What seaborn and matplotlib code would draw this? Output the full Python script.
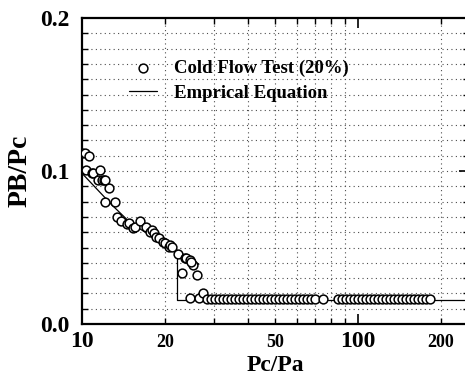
import numpy as np
import pandas as pd
import matplotlib
matplotlib.use("Agg")
import matplotlib.pyplot as plt
import seaborn as sns
from matplotlib.ticker import FixedLocator, FixedFormatter

# ---- data ----
high_x = [10.0, 10.25, 10.34, 10.6, 10.84, 10.99, 11.46, 11.6, 11.78, 12.05, 12.1, 12.53,
          12.1, 13.2, 13.4, 13.9, 14.5, 14.8, 15.25, 15.6, 16.2, 17.0, 17.6, 17.9, 18.2,
          18.6, 19.0, 19.7, 20.0, 20.7, 20.9, 21.1, 22.2, 23.0, 23.6, 23.9, 24.6, 25.3,
          24.9, 26.2]
high_y = [0.112, 0.1116, 0.1006, 0.110, 0.0985, 0.0989, 0.094, 0.1006, 0.094, 0.094, 0.094,
          0.0887, 0.080, 0.080, 0.0697, 0.0675, 0.0654, 0.0662, 0.0625, 0.0636, 0.0675,
          0.0636, 0.0603, 0.0614, 0.0593, 0.0571, 0.056, 0.0538, 0.0532, 0.0505, 0.0516,
          0.0501, 0.0458, 0.0331, 0.0429, 0.0429, 0.0418, 0.0386, 0.0407, 0.032]

low_x = [24.6, 26.5, 27.4, 28.3, 29.3, 30.3, 31.3, 32.4, 33.5, 34.6, 35.8, 37.0, 38.3,
         39.6, 40.9, 42.3, 43.7, 45.2, 46.7, 48.3, 50.0, 51.7, 53.4, 55.2, 57.1, 59.0,
         61.0, 63.1, 65.3, 67.5, 69.8, 74.6,
         84.6, 87.5, 90.5, 93.5, 96.7, 100.0, 103.4, 106.9, 110.5, 114.3, 118.1, 122.1,
         126.3, 130.6, 135.0, 139.6, 144.3, 149.2, 154.3, 159.5, 164.9, 170.5, 176.3, 182.3]
low_y = [0.0168, 0.0170, 0.0205] + [0.0161] * (len(low_x) - 3)

# empirical equation (two branches)
eq1_x = [10.0, 12.8, 15.0, 18.0, 20.0, 22.0, 24.0, 26.5]
eq1_y = [0.0985, 0.078, 0.066, 0.057, 0.052, 0.0485, 0.044, 0.039]
eq2_x = [22.0, 22.0, 260.0]
eq2_y = [0.0485, 0.0160, 0.0160]

y_ticks = [0.0, 0.1, 0.2]
y_labels = ["0.0", "0.1", "0.2"]
x_major = [10, 100]
x_major_labels = ["10", "100"]
x_minor = [20, 30, 40, 50, 60, 70, 80, 90, 200]
x_minor_labels = ["20", "", "", "50", "", "", "", "", "200"]

test_df = pd.DataFrame({"x": high_x + low_x, "y": high_y + low_y})
eq1_df = pd.DataFrame({"x": eq1_x, "y": eq1_y})
eq2_df = pd.DataFrame({"x": eq2_x, "y": eq2_y})

sns.set_style("ticks")
plt.rcParams["font.family"] = ["Liberation Serif", "DejaVu Serif"]
plt.rcParams["font.weight"] = "bold"
plt.rcParams["text.color"] = "black"
plt.rcParams["axes.labelcolor"] = "black"

W, H = 465, 380
fig = plt.figure(figsize=(W / 100, H / 100), dpi=100)
left, right, top, bottom = 82, 469, 18, 324
xmax = 10 ** (1 + (right - left) / 276)
ax = fig.add_axes([left / W, 1 - bottom / H, (right - left) / W, (bottom - top) / H])

ax.set_xscale("log")
ax.set_xlim(10, xmax)
ax.set_ylim(0, 0.2)

# grid
for gx in x_minor:
    ax.axvline(gx, color="0.3", lw=0.8, ls=(0, (1, 3)), zorder=0)
for gy in np.arange(1, 20) / 100:
    ax.axhline(gy, color="0.3", lw=0.8, ls=(0, (1, 3)), zorder=0)

sns.lineplot(data=eq1_df, x="x", y="y", ax=ax, color="black", lw=0.9, sort=False,
             estimator=None, label="Emprical Equation", zorder=2)
sns.lineplot(data=eq2_df, x="x", y="y", ax=ax, color="black", lw=0.9, sort=False,
             estimator=None, legend=False, zorder=2)
sns.scatterplot(data=test_df, x="x", y="y", ax=ax, marker="o", s=40,
                facecolor="white", edgecolor="black", linewidth=1.1,
                label="Cold Flow Test (20%)", zorder=3)

ax.set_yticks(y_ticks)
ax.set_yticklabels(y_labels, fontsize=17, fontweight="bold")
ax.yaxis.set_minor_locator(FixedLocator(np.arange(0, 21) / 100))
ax.xaxis.set_major_locator(FixedLocator(x_major))
ax.xaxis.set_major_formatter(FixedFormatter(x_major_labels))
ax.xaxis.set_minor_locator(FixedLocator(x_minor))
ax.xaxis.set_minor_formatter(FixedFormatter(x_minor_labels))
for t in ax.xaxis.get_majorticklabels():
    t.set_fontsize(17); t.set_fontweight("bold")
for t in ax.xaxis.get_minorticklabels():
    t.set_fontsize(13); t.set_fontweight("bold")

ax.tick_params(which="both", direction="in", top=True, right=True, color="black",
               labelcolor="black")
ax.tick_params(which="major", length=7, width=1.2)
ax.tick_params(which="minor", length=4, width=1.0)
ax.tick_params(axis="x", which="major", pad=5)
ax.tick_params(axis="x", which="minor", pad=7)
ax.tick_params(axis="y", which="major", pad=9)

for sp in ax.spines.values():
    sp.set_color("black"); sp.set_linewidth(1.6)

ax.set_xlabel("Pc/Pa", fontsize=17, fontweight="bold", labelpad=2, color="black")
ax.set_ylabel("PB/Pc", fontsize=20, fontweight="bold", labelpad=5, color="black")

h, l = ax.get_legend_handles_labels()
order = [l.index("Cold Flow Test (20%)"), l.index("Emprical Equation")]
leg = ax.legend([h[i] for i in order], [l[i] for i in order], frameon=False,
                loc="upper left", bbox_to_anchor=(129 / W, 1 - 60 / H),
                bbox_transform=fig.transFigure, borderpad=0, borderaxespad=0,
                handlelength=1.5, handletextpad=0.9, labelspacing=0.38,
                labelcolor="black",
                prop={"family": "Liberation Serif", "weight": "bold", "size": 13.5})

fig.savefig("out.png", dpi=100)
